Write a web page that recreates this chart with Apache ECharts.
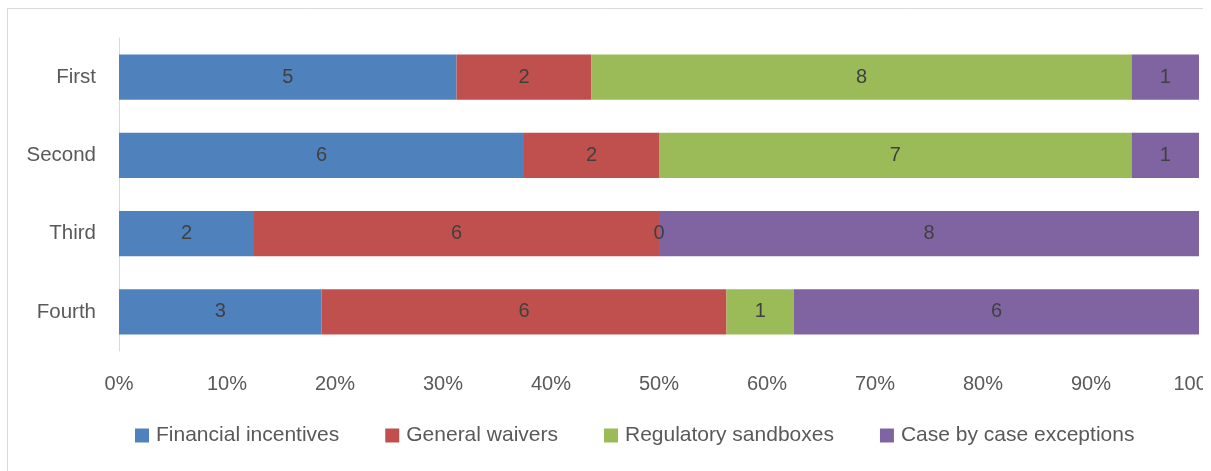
<!DOCTYPE html>
<html>
<head>
<meta charset="utf-8">
<style>
  html, body { margin: 0; padding: 0; background: #fff; }
  #chart { width: 1203px; height: 471px; }
</style>
<script src="https://cdn.jsdelivr.net/npm/echarts@6/dist/echarts.min.js"></script>
</head>
<body>
<div id="chart"></div>
<script>
// categories, top to bottom
var categories = ["First", "Second", "Third", "Fourth"];
var seriesNames = ["Financial incentives", "General waivers", "Regulatory sandboxes", "Case by case exceptions"];
// raw counts per series, same order as categories
var financial = [5, 6, 2, 3];
var waivers = [2, 2, 6, 6];
var sandboxes = [8, 7, 0, 1];
var exceptions = [1, 1, 8, 6];
var xTicks = ["0%", "10%", "20%", "30%", "40%", "50%", "60%", "70%", "80%", "90%", "100%"];

var colors = ["#4f81bd", "#c0504d", "#9bbb59", "#8064a2"];
var font = "Liberation Sans";

var counts = [financial, waivers, sandboxes, exceptions];
var totals = categories.map(function (c, i) {
  return counts.reduce(function (s, arr) { return s + arr[i]; }, 0);
});

var chart = echarts.init(document.getElementById("chart"));

var series = counts.map(function (arr, k) {
  return {
    name: seriesNames[k],
    type: "bar",
    stack: "total",
    barWidth: "58%",
    itemStyle: { color: colors[k] },
    label: {
      show: true,
      position: "inside",
      color: "#404040",
      fontFamily: font,
      fontSize: 20,
      formatter: function (p) { return arr[p.dataIndex]; }
    },
    data: arr.map(function (v, i) { return v / totals[i] * 100; })
  };
});

chart.setOption({
  animation: false,
  color: colors,
  textStyle: { fontFamily: font },
  graphic: [{
    type: "rect",
    shape: { x: 7.5, y: 8.5, width: 1400, height: 700 },
    style: { fill: "none", stroke: "#d9d9d9", lineWidth: 1 },
    silent: true
  }],
  legend: {
    bottom: 20,
    left: 130,
    itemWidth: 14,
    itemHeight: 14,
    itemGap: 46,
    icon: "rect",
    textStyle: { color: "#595959", fontSize: 21, fontFamily: font, padding: [0, 0, 0, 2] },
    data: seriesNames
  },
  grid: { left: 119, right: 4, top: 38, bottom: 120, containLabel: false, outerBoundsMode: "none" },
  xAxis: {
    type: "value",
    min: 0,
    max: 100,
    interval: 10,
    axisLine: { show: false },
    axisTick: { show: false },
    splitLine: { show: false },
    axisLabel: {
      color: "#595959",
      fontSize: 20,
      fontFamily: font,
      margin: 23,
      formatter: function (v) { return xTicks[Math.round(v / 10)]; }
    }
  },
  yAxis: {
    type: "category",
    inverse: true,
    data: categories,
    axisLine: { show: true, lineStyle: { color: "#d9d9d9", width: 1 } },
    axisTick: { show: false },
    axisLabel: { color: "#595959", fontSize: 20.5, fontFamily: font, margin: 23 }
  },
  series: series
});
</script>
</body>
</html>
